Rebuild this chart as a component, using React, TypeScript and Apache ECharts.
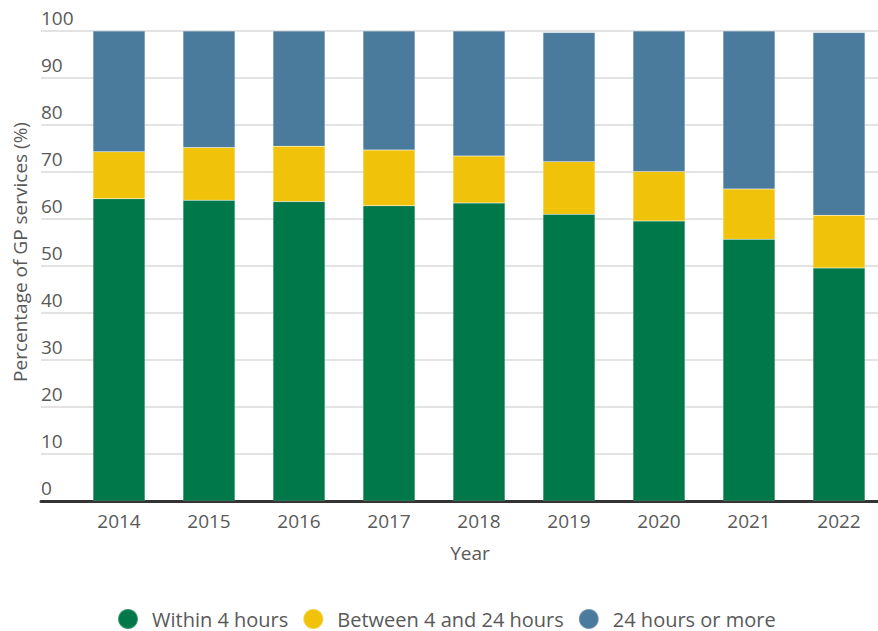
import React, { useEffect, useRef } from "react";
import * as echarts from "echarts";

const years = ["2014", "2015", "2016", "2017", "2018", "2019", "2020", "2021", "2022"];
const within4h = [64.3, 64.0, 63.7, 62.8, 63.4, 61.0, 59.6, 55.7, 49.6];
const between4and24h = [10.0, 11.2, 11.8, 11.9, 10.0, 11.2, 10.5, 10.7, 11.2];
const over24h = [25.7, 24.8, 24.5, 25.3, 26.6, 27.5, 29.9, 33.6, 38.9];
const seriesNames = ["Within 4 hours", "Between 4 and 24 hours", "24 hours or more"];
const colors = ["#00784A", "#F0C30A", "#4A7A9C"];

const FONT = "'Open Sans', sans-serif";
const TEXT = "#595959";

export default function App() {
  const ref = useRef<HTMLDivElement>(null);
  useEffect(() => {
    if (!ref.current) return;
    const chart = echarts.init(ref.current, undefined, { renderer: "svg" });
    const values = [within4h, between4and24h, over24h];
    chart.setOption({
      animation: false,
      textStyle: { fontFamily: FONT },
      grid: [
        { left: 74, top: 31, width: 810, height: 470 },
        { left: 41, top: 31, width: 837, height: 470 },
      ],
      xAxis: [
        {
          type: "category",
          gridIndex: 0,
          data: years,
          axisLine: { show: false },
          axisTick: { show: false },
          axisLabel: { color: TEXT, fontSize: 19, fontFamily: FONT, margin: 10 },
        },
        {
          type: "value",
          gridIndex: 1,
          min: 0,
          max: 1,
          axisLine: { show: true, lineStyle: { color: "#333", width: 3 } },
          axisTick: { show: false },
          axisLabel: { show: false },
          splitLine: { show: false },
        },
      ],
      yAxis: [
        {
          type: "value",
          gridIndex: 0,
          min: 0,
          max: 100,
          interval: 10,
          axisLine: { show: false },
          axisTick: { show: false },
          axisLabel: { show: false },
          splitLine: { show: false },
        },
        {
          type: "value",
          gridIndex: 1,
          min: 0,
          max: 100,
          interval: 10,
          axisLine: { show: false },
          axisTick: { show: false },
          axisLabel: {
            inside: true,
            margin: 0,
            color: TEXT,
            fontSize: 19,
            fontFamily: FONT,
            verticalAlign: "bottom",
            padding: [0, 0, 4, 0],
          },
          splitLine: { show: true, lineStyle: { color: "#e3e3e3", width: 2 } },
        },
      ],
      legend: {
        bottom: 1,
        left: 117,
        padding: 0,
        icon: "circle",
        itemWidth: 20,
        itemHeight: 20,
        itemGap: 14,
        textStyle: { color: TEXT, fontSize: 20, fontFamily: FONT, padding: [0, 0, 0, 9] },
        data: seriesNames,
      },
      graphic: [
        {
          type: "text",
          x: 20,
          y: 252,
          rotation: Math.PI / 2,
          style: {
            text: "Percentage of GP services (%)",
            fill: TEXT,
            font: `19px ${FONT}`,
            align: "center",
            verticalAlign: "middle",
          },
        },
        {
          type: "text",
          x: 470,
          y: 553,
          style: {
            text: "Year",
            fill: TEXT,
            font: `19px ${FONT}`,
            align: "center",
            verticalAlign: "middle",
          },
        },
      ],
      series: seriesNames.map((name, i) => ({
        name,
        type: "bar",
        stack: "total",
        xAxisIndex: 0,
        yAxisIndex: 0,
        barWidth: 52,
        data: values[i],
        itemStyle: { color: colors[i], borderColor: "rgba(255,255,255,0.25)", borderWidth: 0.5 },
      })),
    });
    return () => chart.dispose();
  }, []);
  return (
    <div style={{ width: 878, height: 631, position: "absolute", left: 0, top: 0, overflow: "hidden" }}>
      <div ref={ref} style={{ width: 884, height: 631 }} />
    </div>
  );
}
